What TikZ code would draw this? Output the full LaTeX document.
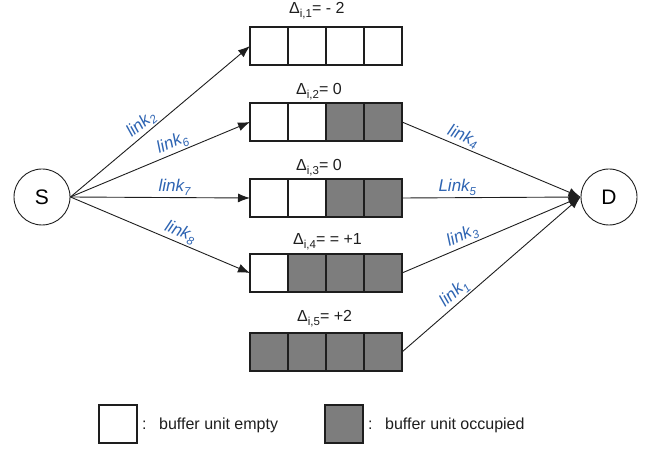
\documentclass[tikz,border=0pt]{standalone}
\usepackage{fontspec}
\setmainfont{Liberation Sans}
\usetikzlibrary{arrows.meta}
\definecolor{linkblue}{RGB}{46,100,178}
\definecolor{occ}{RGB}{125,125,125}
\definecolor{ink}{RGB}{30,30,30}
\newcommand{\lsub}[1]{\raisebox{-0.22em}{\fontsize{11.5}{12}\selectfont #1}}
\begin{document}
\begin{tikzpicture}[x=1pt,y=-1pt,
 cellbox/.style={draw=ink,line width=1.2pt,minimum width=38pt,minimum height=38pt,inner sep=0pt,outer sep=0pt},
 endnode/.style={circle,draw=ink,line width=0.9pt,minimum size=56pt,inner sep=0pt,font=\fontsize{21}{24}\selectfont},
 conn/.style={draw=ink,line width=0.9pt},
 arr/.style={conn,-{Latex[length=12pt,width=9pt]}},
 linklab/.style={text=linkblue,font=\fontsize{17}{20}\selectfont\itshape,sloped,above,inner sep=1.5pt},
 deltalab/.style={anchor=base west,text=ink,font=\fontsize{16}{19}\selectfont,inner sep=0pt},
 legtext/.style={anchor=base west,text=ink,font=\fontsize{16}{19}\selectfont,inner sep=0pt}]
\useasboundingbox (0,0) rectangle (657,449);
% end nodes
\node[endnode] (S) at (42,197) {S};
\node[endnode] (D) at (609,197) {D};
% buffers
\foreach \r/\yy/\a/\b/\c/\d in {1/46/white/white/white/white,
  2/122/white/white/occ/occ, 3/198/white/white/occ/occ,
  4/273/white/occ/occ/occ, 5/352/occ/occ/occ/occ}{
  \node[cellbox,fill=\a] (b\r c1) at (269,\yy) {};
  \node[cellbox,fill=\b] (b\r c2) at (307,\yy) {};
  \node[cellbox,fill=\c] (b\r c3) at (345,\yy) {};
  \node[cellbox,fill=\d] (b\r c4) at (383,\yy) {};
}
% delta labels
\node[deltalab] (d1) at (289,14) {Δ\lsub{i,1}= - 2};
\node[deltalab] (d2) at (296,95) {Δ\lsub{i,2}= 0};
\node[deltalab] (d3) at (296,171) {Δ\lsub{i,3}= 0};
\node[deltalab] (d4) at (293,245) {Δ\lsub{i,4}= = +1};
\node[deltalab] (d5) at (297,322) {Δ\lsub{i,5}= +2};
% source links
\draw[arr] (S.east) -- node[linklab,pos=0.43] {link\lsub{2}} (b1c1.west);
\draw[arr] (S.east) -- node[linklab,pos=0.59] {link\lsub{6}} (b2c1.west);
\draw[arr] (S.east) -- node[linklab,pos=0.58] {link\lsub{7}} (b3c1.west);
\draw[arr] (S.east) -- node[linklab,pos=0.59] {link\lsub{8}} (b4c1.west);
% destination links
\draw[arr] (b2c4.east) -- node[linklab,pos=0.32] {link\lsub{4}} (D.west);
\draw[arr] (b3c4.east) -- node[linklab,pos=0.31] {Link\lsub{5}} (D.west);
\draw[arr] (b4c4.east) -- node[linklab,pos=0.36] {link\lsub{3}} (D.west);
\draw[arr] (b5c4.east) -- node[linklab,pos=0.33] {link\lsub{1}} (D.west);
% legend
\node[cellbox,fill=white] (le) at (118,424) {};
\node[legtext] (lec) at (142,430) {:};
\node[legtext] (let) at (159,430) {buffer unit empty};
\node[cellbox,fill=occ] (lo) at (344,424) {};
\node[legtext] (loc) at (368,430) {:};
\node[legtext] (lot) at (385,430) {buffer unit occupied};
\end{tikzpicture}
\end{document}
